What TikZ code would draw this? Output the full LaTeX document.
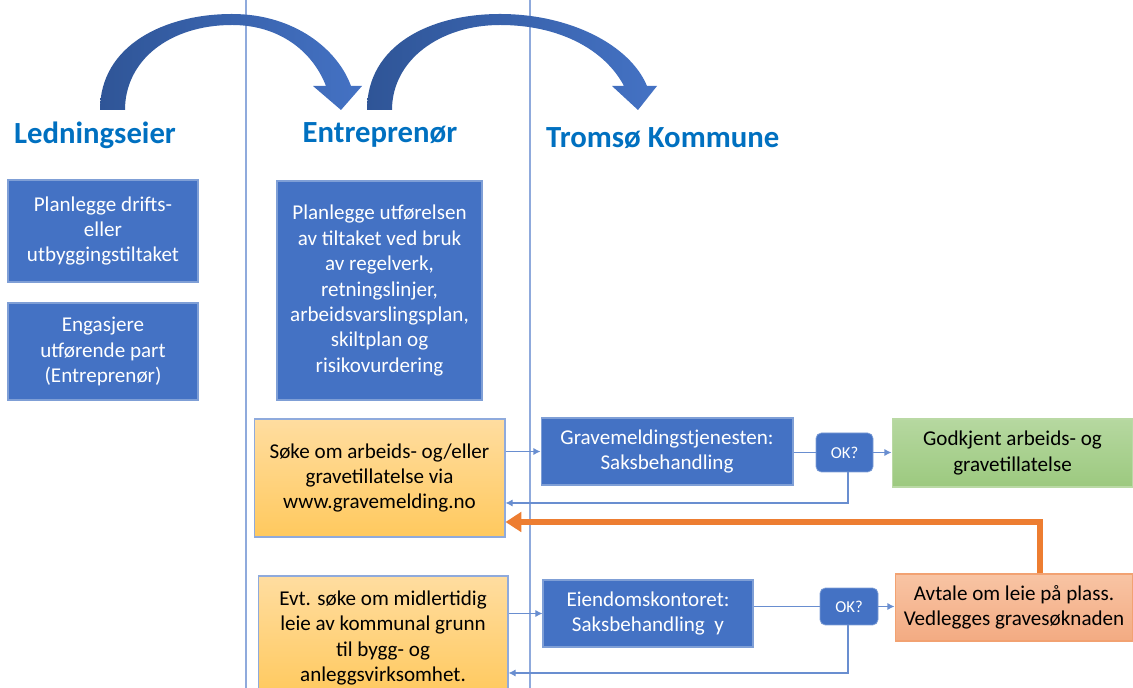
\documentclass[tikz,border=0pt]{standalone}
\usepackage{fontspec}
\setmainfont{Carlito}
\usepackage{xcolor}
\usepackage{tikz}
\usetikzlibrary{arrows.meta,shapes,backgrounds,calc}
\definecolor{boxblue}{HTML}{4472C4}
\definecolor{darkblue}{HTML}{2F5597}
\definecolor{headblue}{HTML}{0070C0}
\definecolor{laneblue}{HTML}{8FAADC}
\definecolor{edgeblue}{HTML}{7F9FD6}
\definecolor{oransje}{HTML}{ED7D31}
\definecolor{gultopp}{HTML}{FFDDA0}
\definecolor{gulbunn}{HTML}{FFC95E}
\definecolor{gronntopp}{HTML}{B6D8A0}
\definecolor{gronnbunn}{HTML}{9CC97F}
\definecolor{lakstopp}{HTML}{F8C4A4}
\definecolor{laksbunn}{HTML}{F3AB82}
\tikzstyle{txt}=[font=\fontsize{12}{14.5}\selectfont, align=center]
\tikzstyle{blk}=[rectangle, draw=edgeblue, fill=boxblue, text=white, line width=0.6pt, txt]% blue step box
\tikzstyle{soek}=[rectangle, draw=laneblue, top color=gultopp, bottom color=gulbunn, line width=0.6pt, txt]
\tikzstyle{ok}=[rectangle, rounded corners=3pt, draw=edgeblue, fill=boxblue, text=white, font=\fontsize{9.5}{11}\selectfont]
\tikzstyle{head}=[font=\fontsize{17.5}{20}\selectfont\bfseries, text=headblue]
\tikzstyle{flow}=[-{Latex[length=4pt,width=4pt]}, draw=boxblue!80, line width=0.6pt]
\tikzstyle{lane}=[draw=laneblue, line width=0.6pt]

\begin{document}
\begin{tikzpicture}[x=0.02cm, y=-0.02cm]
\useasboundingbox (0,0) rectangle (1133,688);
% swimlanes
\draw[lane] (246,0) -- (246,688);
\draw[lane] (530,0) -- (530,688);
% the two big curved arrows
\shade[left color=darkblue, right color=boxblue]
  (100,110) .. controls (100,45) and (165,14) .. (232,14)
  .. controls (295,14) and (338,50) .. (351,86) -- (362,86) -- (341,110) -- (313,86) -- (326,86)
  .. controls (312,50) and (278,25) .. (232,25)
  .. controls (170,25) and (125,60) .. (125,110) -- cycle;
\shade[left color=darkblue, right color=boxblue]
  (367,110) .. controls (367,45) and (430,14) .. (500,14)
  .. controls (570,14) and (630,45) .. (647,86) -- (657,86) -- (638,110) -- (612,86) -- (624,86)
  .. controls (605,50) and (560,25) .. (500,25)
  .. controls (440,25) and (392,60) .. (392,110) -- cycle;
% headers
\node[head] (hle) at (95,135) {Ledningseier};
\node[head] (hen) at (380,135) {Entreprenør};
\node[head, anchor=west] (htk) at (540,138) {Tromsø Kommune};
% Ledningseier
\node[blk, minimum width=3.8cm, minimum height=2.04cm] (le1) at (103,231) {Planlegge drifts-\\eller\\utbyggingstiltaket};
\node[blk, minimum width=3.8cm, minimum height=1.94cm] (le2) at (103,351.5) {Engasjere\\utførende part\\(Entreprenør)};
% Entreprenor
\node[blk, minimum width=4.1cm, minimum height=4.38cm] (en1) at (379.5,290.5) {Planlegge utførelsen\\av tiltaket ved bruk\\av regelverk,\\retningslinjer,\\arbeidsvarslingsplan,\\skiltplan og\\risikovurdering};
\node[soek, minimum width=5.02cm, minimum height=2.36cm] (sok1) at (379.5,478) {Søke om arbeids- og/eller\\gravetillatelse via\\www.gravemelding.no};
\node[soek, minimum width=5.0cm, minimum height=2.4cm, text depth=-4pt] (sok2) at (383,636) {Evt. søke om midlertidig\\leie av kommunal grunn\\til bygg- og\\anleggsvirksomhet.};
% Tromso kommune
\node[blk, minimum width=5.04cm, minimum height=1.34cm] (grv) at (667,451.5) {Gravemeldingstjenesten:\\Saksbehandling};
\node[ok, minimum width=1.14cm, minimum height=0.78cm] (ok1) at (844.5,452.5) {OK?};
\node[rectangle, draw=gronnbunn!70, top color=gronntopp, bottom color=gronnbunn, line width=0.6pt, txt, minimum width=4.82cm, minimum height=1.36cm] (godk) at (1012.5,453) {Godkjent arbeids- og\\gravetillatelse};
\node[blk, minimum width=4.2cm, minimum height=1.34cm] (eid) at (648,613.5) {Eiendomskontoret:\\Saksbehandling\ \ y};
\node[ok, minimum width=1.16cm, minimum height=0.74cm] (ok2) at (849,606.5) {OK?};
\node[rectangle, draw=laksbunn!80!oransje, top color=lakstopp, bottom color=laksbunn, line width=0.6pt, txt, minimum width=4.76cm, minimum height=1.34cm] (avt) at (1014,607.5) {Avtale om leie på plass.\\Vedlegges gravesøknaden};
% connectors
\coordinate (r1) at (848,503);
\coordinate (r2) at (848,673);
\coordinate (o1) at (1040,522);
\draw[flow] (sok1.east |- grv.west) -- (grv.west);
\draw[draw=boxblue!80, line width=0.6pt] (grv.east |- ok1.west) -- (ok1.west);
\draw[flow] (ok1.east) -- (ok1.east -| godk.west);
\draw[flow] (ok1.south -| r1) -- (r1) -- (r1 -| sok1.east);
\draw[-{Triangle[length=9pt,width=11pt]}, draw=oransje, line width=3.5pt] (avt.north -| o1) -- (o1) -- (o1 -| sok1.east);
\draw[flow] (sok2.east |- eid.west) -- (eid.west);
\draw[draw=boxblue!80, line width=0.6pt] (ok2.west -| eid.east) -- (ok2.west);
\draw[flow] (ok2.east) -- (ok2.east -| avt.west);
\draw[flow] (ok2.south -| r2) -- (r2) -- (r2 -| sok2.east);
\end{tikzpicture}
\end{document}
